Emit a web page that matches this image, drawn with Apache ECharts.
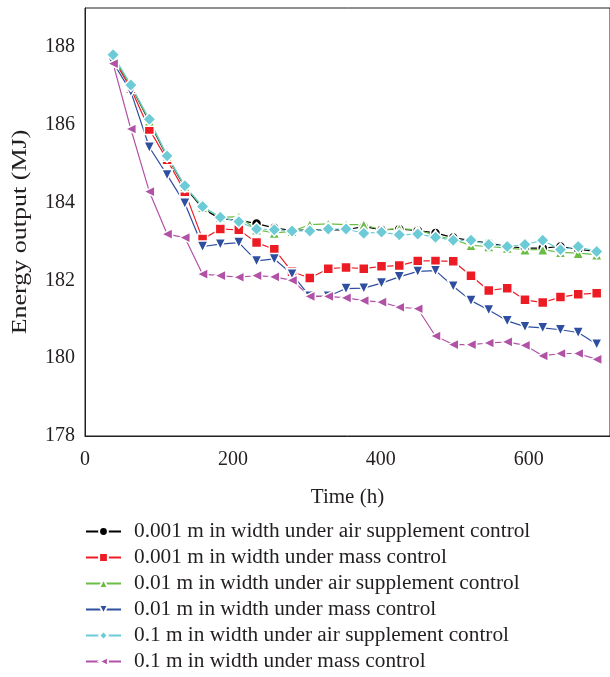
<!DOCTYPE html>
<html>
<head>
<meta charset="utf-8">
<script src="https://cdn.jsdelivr.net/npm/echarts@6/dist/echarts.min.js"></script>
<style>
  html, body { margin: 0; padding: 0; background: #fff; }
  #chart { width: 610px; height: 677px; }
</style>
</head>
<body>
<div id="chart"></div>
<script>
var hours = [38, 62, 87, 111, 135, 159, 183, 208, 232, 256, 280, 304, 329, 353,
  377, 401, 425, 450, 474, 498, 522, 546, 571, 595, 619, 643, 667, 692];

var air001 = [187.72, 187.0, 186.08, 185.18, 184.4, 183.85, 183.58, 183.55, 183.46, 183.35,
  183.28, 183.3, 183.3, 183.3, 183.38, 183.3, 183.32, 183.28, 183.22, 183.1,
  183.02, 182.96, 182.87, 182.83, 182.83, 182.87, 182.8, 182.74];
var mass001 = [187.7, 186.93, 185.88, 185.1, 184.28, 183.06, 183.32, 183.3, 182.97, 182.8,
  182.22, 182.06, 182.3, 182.33, 182.3, 182.36, 182.38, 182.5, 182.5, 182.49,
  182.12, 181.74, 181.8, 181.5, 181.43, 181.57, 181.64, 181.67];
var air01 = [187.75, 187.0, 186.1, 185.2, 184.42, 183.88, 183.62, 183.64, 183.3, 183.22,
  183.26, 183.43, 183.45, 183.43, 183.43, 183.3, 183.33, 183.3, 183.15, 183.05,
  182.9, 182.87, 182.83, 182.79, 182.79, 182.72, 182.7, 182.66];
var mass01 = [187.6, 186.85, 185.42, 184.71, 183.98, 182.87, 182.93, 182.97, 182.5, 182.55,
  182.16, 181.59, 181.59, 181.79, 181.8, 181.93, 182.09, 182.23, 182.25, 181.85,
  181.48, 181.24, 180.96, 180.81, 180.78, 180.73, 180.66, 180.36];
var air1 = [187.8, 187.02, 186.14, 185.2, 184.43, 183.9, 183.62, 183.51, 183.32, 183.3,
  183.27, 183.27, 183.32, 183.32, 183.21, 183.24, 183.17, 183.19, 183.11, 183.03,
  183.03, 182.92, 182.87, 182.92, 183.03, 182.79, 182.87, 182.74];
var mass1 = [187.57, 185.89, 184.28, 183.19, 183.1, 182.16, 182.12, 182.08, 182.12, 182.09,
  182.0, 181.59, 181.59, 181.55, 181.48, 181.44, 181.31, 181.27, 180.57, 180.35,
  180.35, 180.39, 180.42, 180.33, 180.06, 180.12, 180.12, 179.97];

var names = [
  '0.001 m in width under air supplement control',
  '0.001 m in width under mass control',
  '0.01 m in width under air supplement control',
  '0.01 m in width under mass control',
  '0.1 m in width under air supplement control',
  '0.1 m in width under mass control'
];
var yTicks = [178, 180, 182, 184, 186, 188];
var xTicks = [0, 200, 400, 600];

var serif = "'Liberation Serif', 'DejaVu Serif', serif",
  ink = '#231f20';

function pairs(values) {
  return hours.map(function (h, i) { return [h, values[i]]; });
}

function makeSeries(name, values, color, symbol, size, rotate) {
  return {
    name: name,
    type: 'line',
    data: pairs(values),
    symbol: symbol,
    symbolSize: size,
    symbolRotate: rotate || 0,
    showAllSymbol: true,
    lineStyle: { color: color, width: 1.2 },
    itemStyle: { color: color, borderColor: '#fff', borderWidth: 1.5 },
    emphasis: { disabled: true },
    animation: false
  };
}

var chart = echarts.init(document.getElementById('chart'));
var option = {
  animation: false,
  grid: {
    left: 85, top: 8, right: -6, height: 428,
    show: true, borderColor: ink, borderWidth: 1
  },
  // the y name in the figure is stretched along its length
  graphic: [{
    type: 'text',
    x: 21,
    y: 232,
    rotation: Math.PI / 2,
    scaleX: 1.3,
    style: {
      text: 'Energy output (MJ)',
      font: "20px 'Liberation Serif', serif",
      fill: ink,
      align: 'center',
      verticalAlign: 'middle'
    }
  }],
  legend: {
    orient: 'vertical',
    left: 85,
    top: 521,
    height: 156,
    padding: 0,
    itemWidth: 35,
    itemHeight: 11,
    itemGap: 5,
    textStyle: {
      fontFamily: serif, fontSize: 21.3, color: ink,
      lineHeight: 21, padding: [0, 0, 0, 8]
    },
    data: names
  },
  xAxis: {
    type: 'value',
    min: 0, max: 710, interval: 200,
    name: 'Time (h)',
    nameLocation: 'middle',
    nameGap: 51,
    nameTextStyle: { fontFamily: serif, fontSize: 21, color: ink },
    axisLine: { lineStyle: { color: ink, width: 1 } },
    axisTick: { show: false },
    splitLine: { show: false },
    axisLabel: {
      fontFamily: serif, fontSize: 20, color: ink, margin: 14,
      customValues: xTicks
    }
  },
  yAxis: {
    type: 'value',
    min: 178, max: 189, interval: 2,
    axisLine: { show: true, lineStyle: { color: ink, width: 1 } },
    axisTick: { show: false },
    splitLine: { show: false },
    axisLabel: {
      fontFamily: serif, fontSize: 20, color: ink, margin: 10,
      customValues: yTicks
    }
  },
  series: [
    makeSeries(names[0], air001, '#000000', 'circle', 10),
    makeSeries(names[1], mass001, '#ed1c24', 'rect', 10),
    makeSeries(names[2], air01, '#6bbd45', 'triangle', 11),
    makeSeries(names[3], mass01, '#2e4ea0', 'triangle', 11, 180),
    makeSeries(names[4], air1, '#6ccbd6', 'diamond', 13),
    makeSeries(names[5], mass1, '#b152a6', 'triangle', 11, 90)
  ]
};
chart.setOption(option);
</script>
</body>
</html>
